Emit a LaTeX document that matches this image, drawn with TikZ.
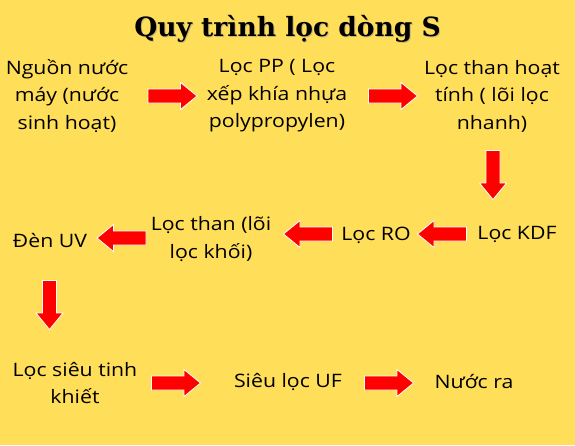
\documentclass[tikz,border=0pt]{standalone}
\usepackage{fontspec}
\setmainfont[FakeStretch=1.15]{Open Sans}
\newfontfamily\titlefont{DejaVu Serif}
\definecolor{bgyellow}{HTML}{FFDE59}
\definecolor{arrowred}{HTML}{FF0000}
\newcommand\blockarrow[2]{%
  \draw[blockarr, shift={(#1)}, rotate=#2]
    (-24.5,-7) -- (8,-7) -- (8,-13.5) -- (24.5,0) -- (8,13.5) -- (8,7) -- (-24.5,7) -- cycle;}
\begin{document}
\begin{tikzpicture}[x=1pt,y=-1pt,
  txt/.style={align=center, font=\fontsize{18.5}{27.5}\selectfont, text=black, inner sep=0pt},
  ttl/.style={font=\titlefont\bfseries\fontsize{26.5}{30}\selectfont, inner sep=0pt},
  blockarr/.style={fill=arrowred, draw=white, line width=0.8pt, line join=miter}]
\fill[bgyellow] (0,0) rectangle (575,445);
\useasboundingbox (0,0) rectangle (575,445);
% title with soft shadow
\node[ttl, text=black!45, opacity=0.5] (titleshadow) at (288.5,29.5) {Quy trình lọc dòng S};
\node[ttl] (title) at (287.5,28.5) {Quy trình lọc dòng S};
% row 1
\node[txt] (n1) at (67,96) {Nguồn nước\\máy (nước\\sinh hoạt)};
\node[txt] (n2) at (277,96) {Lọc PP ( Lọc\\xếp khía nhựa\\polypropylen)};
\node[txt] (n3) at (492,96) {Lọc than hoạt\\tính ( lõi lọc\\nhanh)};
% row 2
\node[txt] (n4) at (517,234) {Lọc KDF};
\node[txt] (n5) at (376,235) {Lọc RO};
\node[txt] (n6) at (211,239) {Lọc than (lõi\\lọc khối)};
\node[txt] (n7) at (50,240) {Đèn UV};
% row 3
\node[txt] (n8) at (75,383) {Lọc siêu tinh\\khiết};
\node[txt] (n9) at (288,382) {Siêu lọc UF};
\node[txt] (n10) at (474,381) {Nước ra};
% arrow positions
\coordinate (a1) at (172.5,96);
\coordinate (a2) at (393,96);
\coordinate (a3) at (493,175);
\coordinate (a4) at (442,234);
\coordinate (a5) at (308,234);
\coordinate (a6) at (121.5,238);
\coordinate (a7) at (49.5,305);
\coordinate (a8) at (176,383);
\coordinate (a9) at (389,383);
\blockarrow{a1}{0}
\blockarrow{a2}{0}
\blockarrow{a3}{-90}
\blockarrow{a4}{180}
\blockarrow{a5}{180}
\blockarrow{a6}{180}
\blockarrow{a7}{-90}
\blockarrow{a8}{0}
\blockarrow{a9}{0}
\end{tikzpicture}
\end{document}
